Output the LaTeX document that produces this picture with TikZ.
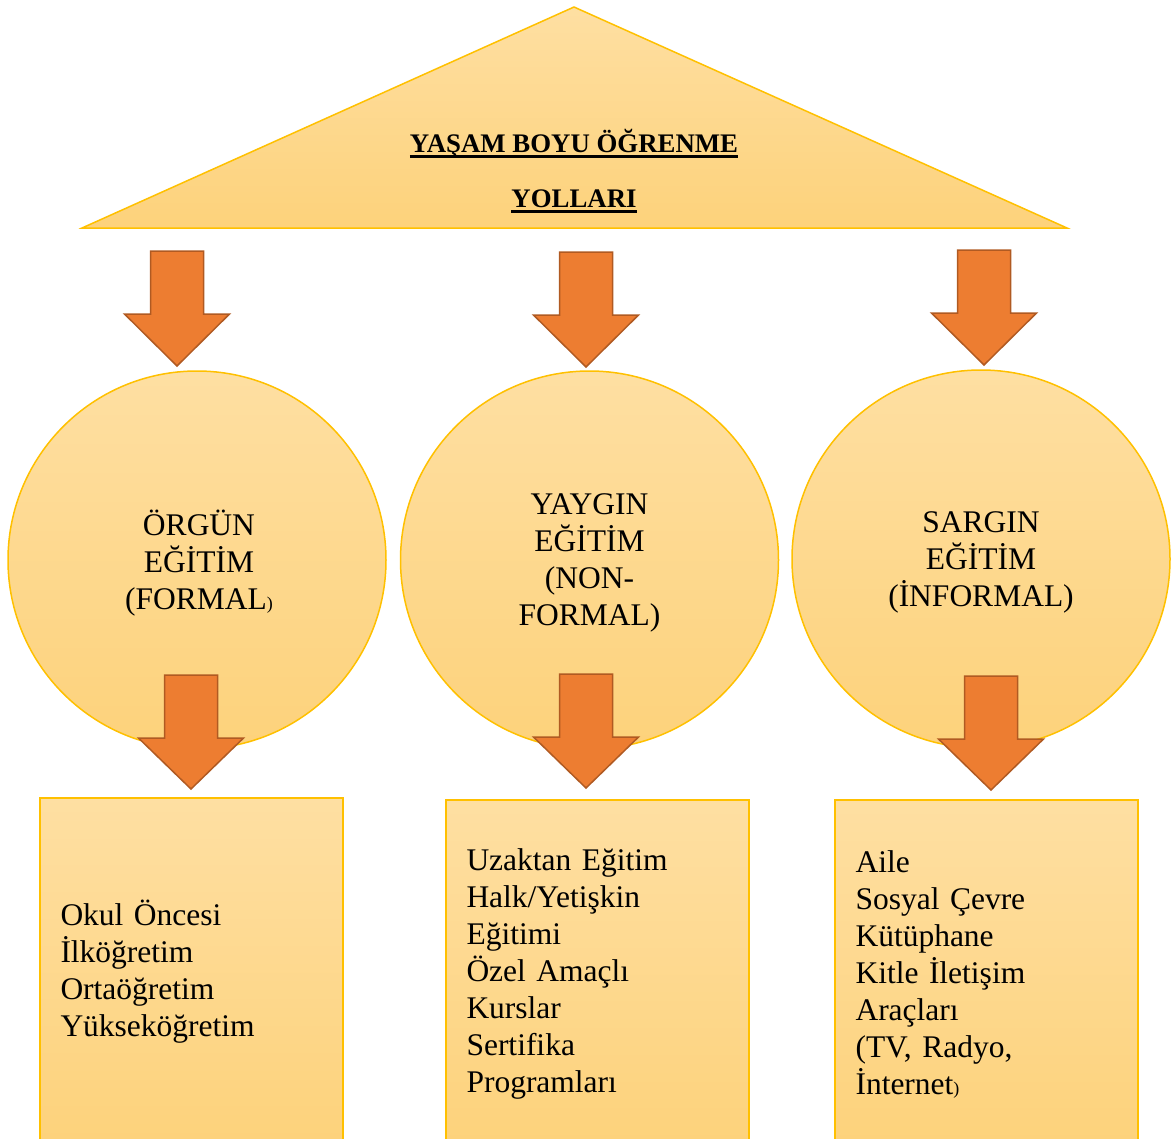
\documentclass[tikz,border=0pt]{standalone}
\usepackage{fontspec}
\setmainfont{Liberation Serif}

\definecolor{goldlight}{HTML}{FEDFA2}
\definecolor{golddark}{HTML}{FDD27B}
\definecolor{goldline}{HTML}{FFC000}
\definecolor{arrowfill}{HTML}{ED7D31}
\definecolor{arrowline}{HTML}{B05A22}

\newcommand\bodyfont{\fontsize{31.5}{37}\selectfont}
\newcommand\smallparen{{\fontsize{18}{18}\selectfont )}}
\newcommand\titleline[1]{\setbox0\hbox{#1}\rlap{\rule[-5pt]{\wd0}{2.6pt}}\box0}

\tikzset{
  goldfill/.style={top color=goldlight, bottom color=golddark, draw=goldline, line width=1.5pt},
  pathcircle/.style={goldfill, circle, minimum size=378pt, inner sep=0pt},
  circletext/.style={align=center, inner sep=0pt, font=\bodyfont},
  listbox/.style={goldfill, rectangle, minimum width=303pt, minimum height=348pt,
    text width=262pt, inner xsep=20pt, align=left, font=\bodyfont},
  blockarrow/.style={fill=arrowfill, draw=arrowline, line width=1.5pt, line join=miter}
}

\begin{document}
\begin{tikzpicture}[x=1pt, y=-1pt]
  \useasboundingbox (0,0) rectangle (1172,1138);

  % roof
  \coordinate (apex) at (574,7);
  \coordinate (roofleft) at (82,228);
  \coordinate (roofright) at (1067,228);
  \draw[goldfill] (apex) -- (roofright) -- (roofleft) -- cycle;
  \node[align=center, inner sep=0pt, font=\fontsize{26.8}{55}\selectfont\bfseries] (title) at (574,171)
    {\titleline{YAŞAM BOYU ÖĞRENME}\\ \titleline{YOLLARI}};

  % upper arrows
  \foreach \x/\t in {177/251, 586/252, 984/250}
    \draw[blockarrow] ({\x-26.5},\t) -- ({\x+26.5},\t) -- ({\x+26.5},\t+63) -- ({\x+52.5},\t+63)
      -- (\x,\t+115) -- ({\x-52.5},\t+63) -- ({\x-26.5},\t+63) -- cycle;

  % circles
  \node[pathcircle] (orgun) at (197,560) {};
  \node[pathcircle] (yaygin) at (589.5,560) {};
  \node[pathcircle] (sargin) at (981,559) {};
  \node[circletext] (orguntext) at ([xshift=2pt, yshift=-3pt]orgun.center) {ÖRGÜN\\EĞİTİM\\(FORMAL\smallparen};
  \node[circletext] (yaygintext) at ([yshift=-3pt]yaygin.center) {YAYGIN\\EĞİTİM\\(NON-\\FORMAL)};
  \node[circletext] (sargintext) at ([yshift=-3pt]sargin.center) {SARGIN\\EĞİTİM\\(İNFORMAL)};

  % lower arrows
  \foreach \x/\t in {191/675, 586/674, 991/676}
    \draw[blockarrow] ({\x-26.5},\t) -- ({\x+26.5},\t) -- ({\x+26.5},\t+63) -- ({\x+52.5},\t+63)
      -- (\x,\t+114) -- ({\x-52.5},\t+63) -- ({\x-26.5},\t+63) -- cycle;

  % boxes
  \node[listbox] (orgunlist) at (191.5,972)
    {Okul Öncesi\\İlköğretim\\Ortaöğretim\\Yükseköğretim};
  \node[listbox] (yayginlist) at (597.5,974)
    {Uzaktan Eğitim\\Halk/Yetişkin\\Eğitimi\\Özel Amaçlı\\Kurslar\\Sertifika\\Programları};
  \node[listbox] (sarginlist) at (986.5,974)
    {Aile\\Sosyal Çevre\\Kütüphane\\Kitle İletişim\\Araçları\\(TV, Radyo,\\İnternet\smallparen};
\end{tikzpicture}
\end{document}
